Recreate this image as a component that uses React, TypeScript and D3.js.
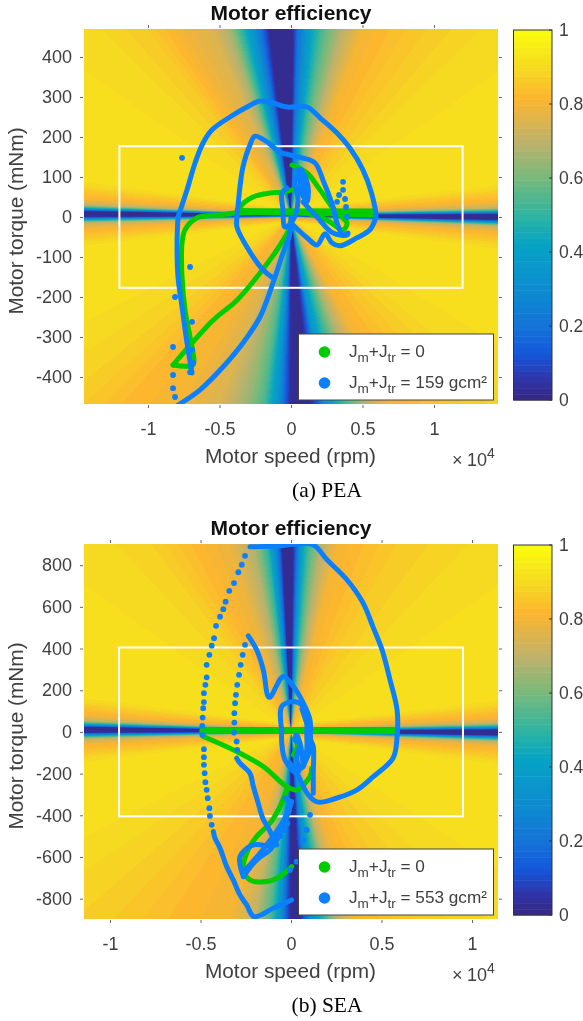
import React, { useEffect, useRef } from "react";
import * as d3 from "d3";

// colour bar
const colorLevels = [0, 0.05, 0.12, 0.2, 0.3, 0.42, 0.5, 0.6, 0.7, 0.82, 0.9, 1];
const colorValues = ["#352a87", "#3034a8", "#1458dc", "#1475d8", "#0d8dd0", "#05a3c5", "#2fb5a0", "#77b97c", "#bdb26b", "#fdb52f", "#f6d822", "#f9fb0e"];
const colorTicks = [0, 0.2, 0.4, 0.6, 0.8, 1];

// efficiency seen along rays leaving the origin, [angle deg, efficiency]
const peaRays = [[-180, .9], [-160, .92], [-150, .9], [-140, .87], [-130.7, .82], [-120.7, .8], [-110.8, .75], [-103.2, .65], [-98.5, .55], [-94.3, .35], [-91.8, .15], [-90, .02], [-84.2, .02], [-81.7, .15], [-79.3, .35], [-74.6, .5], [-68.4, .68], [-61.9, .8], [-50, .85], [-37, .9], [-20, .92], [0, .9], [20, .92], [42, .9], [57, .85], [69, .8], [74.5, .7], [80.3, .55], [84.2, .4], [87.9, .2], [89.4, .03], [96.7, .03], [98.8, .18], [101.4, .33], [104.3, .48], [108, .66], [112.5, .75], [120.6, .8], [127.5, .86], [137.6, .9], [160, .92], [180, .9]];
const seaRays = [[-180, .9], [-160, .92], [-150, .9], [-137, .87], [-120.7, .82], [-108, .8], [-101.5, .72], [-96.4, .55], [-93.4, .35], [-91.2, .12], [-90, .02], [-87.2, .02], [-86.3, .1], [-84, .3], [-80, .5], [-76, .7], [-71, .8], [-60, .85], [-40, .9], [-20, .92], [0, .9], [20, .92], [42.4, .9], [60.6, .86], [76.2, .8], [81.2, .68], [84.2, .55], [86.7, .4], [88.2, .2], [89.4, .03], [92.7, .03], [93.3, .12], [94.9, .3], [97.3, .5], [101.4, .68], [108, .78], [116.6, .82], [127.5, .88], [137.6, .9], [160, .92], [180, .9]];

// low torque stripe at the edge of the plot, [torque above stripe centre mNm, efficiency]
const peaStripe = [[0, .02], [6, .02], [10, .2], [15, .45], [22, .7], [35, .8], [75, .9], [150, 1]];
const seaStripe = [[0, .02], [12, .02], [19, .2], [29, .45], [43, .7], [67, .8], [144, .9], [288, 1]];
// stripe centre torque at zero speed and its slope per 1e4 rpm
const peaStripeLine = [3.75, -2.6];
const seaStripeLine = [3.8, -5.4];

// PEA operating points, speed in 1e4 rpm, torque in mNm
const peaGreenTracks = [
  [[-.825, -370], [-.692, -315], [-.545, -258], [-.378, -208], [-.217, -140], [-.098, -82], [-.007, -25], [0, 10]],
  [[-.825, -370], [-.685, -370], [-.685, -340], [-.706, -300], [-.741, -232], [-.762, -150], [-.762, -65], [-.741, -32], [-.657, -2], [-.497, 5], [-.378, 10], [.573, 5]],
  [[.573, 15], [-.378, 16]],
  [[-.371, 12], [-.357, 25], [-.266, 50], [-.147, 60], [-.056, 62], [.007, 68]],
  [[.007, 130], [.112, 110], [.203, 68], [.294, 22], [.357, 0], [.392, -15], [.364, -32], [.252, -8], [.112, 10]],
];
const peaBlueTracks = [
  [[-.79, -470], [-.636, -432], [-.476, -375], [-.336, -315], [-.217, -250], [-.126, -165], [-.056, -90], [-.007, -40], [0, 0]],
  [[-.79, 0], [-.797, -65], [-.79, -150], [-.762, -225], [-.727, -315], [-.692, -390]],
  [[-.79, 0], [-.727, 68], [-.671, 135], [-.615, 185], [-.552, 218], [-.427, 250], [-.308, 275], [-.217, 290], [-.126, 285], [-.028, 275], [.112, 275], [.203, 248], [.322, 210], [.413, 172], [.503, 118], [.563, 60], [.594, 0], [.587, -8], [.552, -32], [.462, -52], [.343, -72], [.287, -65], [.238, -42], [.182, -70], [.112, -52], [.014, -20]],
  [[-.126, -152], [-.196, -132], [-.308, -75], [-.378, -25], [-.378, 0], [-.371, 25], [-.357, 75], [-.336, 125], [-.287, 180], [-.252, 202], [-.168, 188], [-.077, 162], [-.007, 155], [.077, 148], [.168, 135], [.224, 92], [.294, 25], [.322, -15], [.364, -45], [.399, -40], [.392, -45], [.294, -40], [.182, 0], [.084, 38]],
  [[-.028, 72], [-.063, 60], [-.056, 18], [-.042, -25], [.014, -8], [.049, 42], [.028, 92], [.077, 112], [.119, 75], [.112, 38], [.063, 75], [.084, 100], [.042, 118], [.098, 55]],
  [[.05, 105], [.09, 60], [.07, 120], [.1, 85], [.06, 60]],
];
const peaBlueDots = [[-.762, 148], [.364, 88], [.364, 68], [.336, 55], [.378, 45], [.322, 38], [.385, 25], [.392, 0], [-.706, -125], [-.811, -200], [-.692, -262], [-.825, -325], [-.825, -395], [-.825, -428], [-.811, -450], [-.692, -332], [-.685, -365], [-.706, -388]];

// SEA operating points
const seaGreenTracks = [
  [[-.492, 2], [.586, 2]],
  [[-.492, 11], [.586, 11]],
  [[-.485, -22], [-.3, -94], [-.153, -166], [-.024, -262], [.031, -278], [.105, -214], [.114, -174]],
  [[-.024, -278], [-.061, -358], [-.116, -438], [-.19, -502], [-.245, -582], [-.263, -662], [-.227, -710], [-.134, -718], [-.061, -694], [.004, -646]],
  [[.013, -110], [.035, -70], [.02, -30]],
];
const seaBlueTracks = [
  [[-.227, 888], [-.061, 893], [.011, 900], [.122, 898], [.199, 826], [.309, 730], [.398, 619], [.453, 504], [.503, 394], [.547, 250], [.586, 106], [.586, -24], [.564, -125], [.453, -216], [.365, -278], [.254, -317], [.144, -336], [.088, -293], [.033, -197], [-.006, -149]],
  [[-.429, -478], [-.42, -510], [-.392, -558], [-.355, -647], [-.319, -710], [-.282, -782], [-.245, -830], [-.204, -886], [-.098, -846], [.004, -806]],
  [[-.3, -126], [-.282, -150], [-.227, -198], [-.208, -262], [-.181, -342], [-.156, -414], [-.125, -462], [-.079, -542]],
  [[-.236, 461], [-.19, 394], [-.153, 298], [-.12, 166], [-.043, 266], [.013, 218], [.068, 138], [.105, 58], [.109, -38], [.123, -70], [.123, -198], [.123, -294]],
  [[-.051, 10], [-.051, 122], [.013, 146], [.059, 130], [.087, 60], [.087, -6], [.087, -86], [.068, -166], [.05, -174], [.031, -118], [.05, -54], [.022, -38], [.031, -14], [.05, -54], [.068, -166]],
  [[-.051, 10], [-.051, -54], [-.033, -134], [.031, -198], [.05, -174]],
  [[.06, 110], [.08, 60], [.1, 0], [.11, -70], [.08, -140]],
  [[-.263, -694], [-.282, -598], [-.208, -542], [-.098, -542], [-.061, -470], [-.024, -390], [-.006, -334], [-.033, -318]],
  [[-.263, -694], [-.19, -614], [-.116, -566], [-.079, -518], [-.024, -406], [.004, -334]],
  [[-.25, -660], [-.15, -560], [-.05, -440], [-.01, -380]],
];
const seaBlueDots = [[-.254, 845], [-.272, 802], [-.291, 766], [-.315, 714], [-.341, 677], [-.361, 625], [-.374, 589], [-.392, 553], [-.414, 509], [-.425, 450], [-.438, 414], [-.451, 370], [-.466, 322], [-.466, 262], [-.473, 226], [-.481, 186], [-.481, 143], [-.485, 114], [-.488, 69], [-.49, 29], [-.49, -14], [-.481, -83], [-.481, -121], [-.481, -158], [-.477, -198], [-.473, -241], [-.466, -278], [-.46, -318], [-.451, -366], [-.448, -403], [-.438, -446], [-.254, 418], [-.267, 370], [-.278, 322], [-.287, 274], [-.297, 226], [-.304, 178], [-.309, 138], [-.313, 90], [-.313, 45], [-.315, -3], [-.3, -46], [-.297, -86], [.105, -398], [.087, -470], [.068, -518], [.031, -622], [-.006, -662], [-.06, -500], [-.04, -470], [-.02, -440], [-.09, -530]];

const peaSpeedTicks = [-1, -0.5, 0, 0.5, 1];
const peaTorqueTicks = [-400, -300, -200, -100, 0, 100, 200, 300, 400];
const seaSpeedTicks = [-1, -0.5, 0, 0.5, 1];
const seaTorqueTicks = [-800, -600, -400, -200, 0, 200, 400, 600, 800];

const green = "#00cc00";
const blue = "#0a80ff";
const textColor = "#404040";
const sans = "'Liberation Sans', Arial, sans-serif";

const colorScale = d3.scaleLinear<string>().domain(colorLevels).range(colorValues).interpolate(d3.interpolateRgb);

const panels = [
  { id: "pea", top: 29, speedMax: 1.4476, torque: [-467.5, 470], rays: peaRays, stripe: peaStripe, stripeLine: peaStripeLine, speedTicks: peaSpeedTicks, torqueTicks: peaTorqueTicks, boxSpeed: 1.2, boxTorque: 177, greenTracks: peaGreenTracks, blueTracks: peaBlueTracks, blueDots: peaBlueDots, inertia: "159", caption: "(a) PEA" },
  { id: "sea", top: 544, speedMax: 1.1436, torque: [-897.6, 901.6], rays: seaRays, stripe: seaStripe, stripeLine: seaStripeLine, speedTicks: seaSpeedTicks, torqueTicks: seaTorqueTicks, boxSpeed: 0.95, boxTorque: 405, greenTracks: seaGreenTracks, blueTracks: seaBlueTracks, blueDots: seaBlueDots, inertia: "553", caption: "(b) SEA" },
];

function efficiencyImage(p: any, x: any, y: any, w: number, h: number, left: number, top: number) {
  const rayAt = d3.scaleLinear().domain(p.rays.map((d: number[]) => d[0])).range(p.rays.map((d: number[]) => d[1]));
  const stripeAt = d3.scaleLinear().domain(p.stripe.map((d: number[]) => d[0])).range(p.stripe.map((d: number[]) => d[1])).clamp(true);
  const canvas = document.createElement("canvas");
  canvas.width = w;
  canvas.height = h;
  const ctx = canvas.getContext("2d")!;
  const img = ctx.createImageData(w, h);
  const cache = new Map<number, d3.RGBColor>();
  for (let j = 0; j < h; j++) {
    for (let i = 0; i < w; i++) {
      const px = left + i + 0.5, py = top + j + 0.5;
      const s = x.invert(px), t = y.invert(py);
      const angle = (Math.atan2(y(0) - py, px - x(0)) * 180) / Math.PI;
      const centre = p.stripeLine[0] + p.stripeLine[1] * s;
      const spread = 0.2 + (0.8 * Math.abs(s)) / p.speedMax;
      const eff = Math.min(rayAt(angle), stripeAt(Math.abs(t - centre) / spread));
      const level = Math.min(63, Math.floor(eff * 64));
      if (!cache.has(level)) cache.set(level, d3.rgb(colorScale(level / 63)));
      const c = cache.get(level)!;
      const k = (j * w + i) * 4;
      img.data[k] = c.r;
      img.data[k + 1] = c.g;
      img.data[k + 2] = c.b;
      img.data[k + 3] = 255;
    }
  }
  ctx.putImageData(img, 0, 0);
  return canvas.toDataURL();
}

function drawPanel(root: any, p: any) {
  const left = 84, right = 498, plotH = 375;
  const bottom = p.top + plotH;
  const x = d3.scaleLinear().domain([-p.speedMax, p.speedMax]).range([left, right]);
  const y = d3.scaleLinear().domain(p.torque).range([bottom, p.top]);
  const g = root.append("g");

  g.append("clipPath").attr("id", `clip-${p.id}`).append("rect")
    .attr("x", left).attr("y", p.top).attr("width", right - left).attr("height", plotH);

  const plot = g.append("g").attr("clip-path", `url(#clip-${p.id})`);

  plot.append("image").attr("x", left).attr("y", p.top).attr("width", right - left).attr("height", plotH)
    .attr("href", efficiencyImage(p, x, y, right - left, plotH, left, p.top));

  plot.append("rect")
    .attr("x", x(-p.boxSpeed)).attr("y", y(p.boxTorque))
    .attr("width", x(p.boxSpeed) - x(-p.boxSpeed)).attr("height", y(-p.boxTorque) - y(p.boxTorque))
    .attr("fill", "none").attr("stroke", "#fff").attr("stroke-width", 2);

  const line = d3.line().x((d: any) => x(d[0])).y((d: any) => y(d[1])).curve(d3.curveCatmullRom.alpha(0.5));
  plot.selectAll(".green").data(p.greenTracks).join("path").attr("class", "green")
    .attr("d", line as any).attr("fill", "none").attr("stroke", green).attr("stroke-width", 5)
    .attr("stroke-linejoin", "round").attr("stroke-linecap", "round");
  plot.selectAll(".blue").data(p.blueTracks).join("path").attr("class", "blue")
    .attr("d", line as any).attr("fill", "none").attr("stroke", blue).attr("stroke-width", 5)
    .attr("stroke-linejoin", "round").attr("stroke-linecap", "round");
  plot.selectAll("circle").data(p.blueDots).join("circle")
    .attr("cx", (d: number[]) => x(d[0])).attr("cy", (d: number[]) => y(d[1])).attr("r", 2.9).attr("fill", blue);

  // axes, ticks point outwards and there is no box line
  const styleAxis = (a: any, showText: boolean) => {
    a.select(".domain").remove();
    a.selectAll("line").attr("stroke", textColor).attr("stroke-width", 0.8);
    a.selectAll("text").attr("fill", textColor).style("font", `18px ${sans}`);
    if (!showText) a.selectAll("text").remove();
  };
  const fmt = (d: any) => `${d}`;
  g.append("g").attr("transform", `translate(0,${bottom + 1})`)
    .call(d3.axisBottom(x).tickValues(p.speedTicks).tickFormat(fmt).tickSize(3).tickSizeOuter(0).tickPadding(14))
    .call(styleAxis, true);
  g.append("g").attr("transform", `translate(0,${p.top - 1})`)
    .call(d3.axisTop(x).tickValues(p.speedTicks).tickSize(3).tickSizeOuter(0))
    .call(styleAxis, false);
  g.append("g").attr("transform", `translate(${left - 1},0)`)
    .call(d3.axisLeft(y).tickValues(p.torqueTicks).tickFormat(fmt).tickSize(3).tickSizeOuter(0).tickPadding(8))
    .call(styleAxis, true);
  g.append("g").attr("transform", `translate(${right + 1},0)`)
    .call(d3.axisRight(y).tickValues(p.torqueTicks).tickSize(3).tickSizeOuter(0))
    .call(styleAxis, false);

  const label = (sel: any) => sel.attr("fill", textColor).style("font", `20.8px ${sans}`).attr("text-anchor", "middle");
  g.append("text").attr("x", 290.5).attr("y", bottom + 59).text("Motor speed (rpm)").call(label);
  g.append("text").attr("transform", `translate(23,${p.top + 192}) rotate(-90)`).text("Motor torque (mNm)").call(label);
  g.append("text").attr("x", 291).attr("y", p.top - 9).attr("text-anchor", "middle").attr("fill", "#111")
    .style("font", `bold 21px ${sans}`).text("Motor efficiency");

  const exp = g.append("text").attr("y", bottom + 62).attr("fill", textColor).style("font", `18px ${sans}`);
  exp.append("tspan").attr("x", 452).text("×");
  exp.append("tspan").attr("x", 467).text("10");
  exp.append("tspan").attr("dy", -8).style("font-size", "14px").text("4");

  g.append("text").attr("x", 327).attr("y", bottom + 93).attr("text-anchor", "middle").attr("fill", "#000")
    .style("font", "21.5px 'Liberation Serif', serif").text(p.caption);

  // legend
  const lg = g.append("g").attr("transform", `translate(298.5,${bottom - 70})`);
  lg.append("rect").attr("width", 195).attr("height", 66).attr("fill", "#fff").attr("stroke", "#444").attr("stroke-width", 1);
  const legendRow = (cy: number, color: string, tail: string) => {
    lg.append("circle").attr("cx", 26).attr("cy", cy).attr("r", 5.8).attr("fill", color);
    const t = lg.append("text").attr("x", 50.5).attr("y", cy + 5).attr("fill", textColor).style("font", `17.2px ${sans}`);
    t.append("tspan").text("J");
    t.append("tspan").attr("dy", 5).style("font-size", "13.5px").text("m");
    t.append("tspan").attr("dy", -5).text("+J");
    t.append("tspan").attr("dy", 5).style("font-size", "13.5px").text("tr");
    t.append("tspan").attr("dy", -5).text(` = ${tail}`);
  };
  legendRow(18, green, "0");
  legendRow(49, blue, `${p.inertia} gcm²`);

  // colour bar
  const barTop = p.top + 1, barBottom = p.top + 371;
  const c = d3.scaleLinear().domain([0, 1]).range([barBottom, barTop]);
  const bar = g.append("g");
  bar.selectAll("rect").data(d3.range(64)).join("rect")
    .attr("x", 513.5).attr("width", 38.5)
    .attr("y", (i: number) => c((i + 1) / 64)).attr("height", (barBottom - barTop) / 64 + 0.5)
    .attr("fill", (i: number) => colorScale(i / 63));
  bar.append("rect").attr("x", 513.5).attr("y", barTop).attr("width", 38.5).attr("height", barBottom - barTop)
    .attr("fill", "none").attr("stroke", "#333").attr("stroke-width", 1);
  bar.selectAll("line").data(colorTicks).join("line")
    .attr("x1", 549).attr("x2", 552).attr("y1", (d: number) => c(d)).attr("y2", (d: number) => c(d)).attr("stroke", "#333");
  bar.selectAll("text").data(colorTicks).join("text")
    .attr("x", 559).attr("y", (d: number) => c(d) + 6).attr("fill", textColor).style("font", `17.5px ${sans}`)
    .text((d: number) => `${d}`);
}

export default function App() {
  const ref = useRef<SVGSVGElement>(null);
  useEffect(() => {
    const root = d3.select(ref.current);
    root.selectAll("*").remove();
    panels.forEach((p) => drawPanel(root, p));
  }, []);
  return <svg ref={ref} width={583} height={1021} style={{ position: "absolute", left: 0, top: 0, background: "#fff", filter: "blur(0.4px)" }} />;
}
